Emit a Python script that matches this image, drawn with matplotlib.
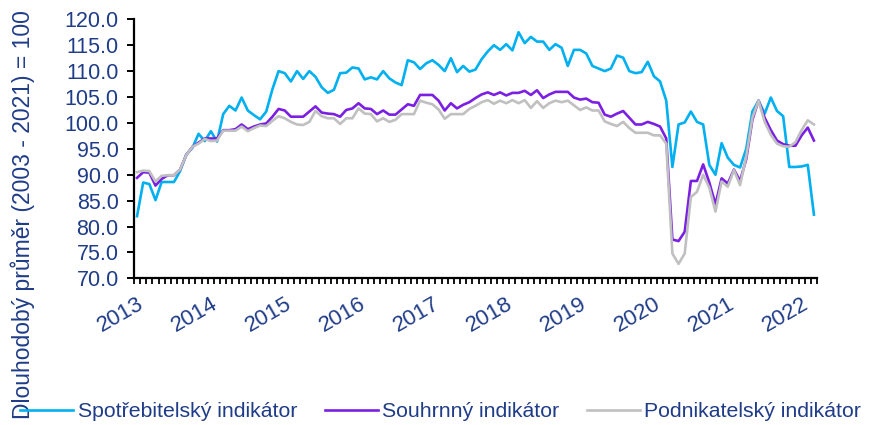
import matplotlib
matplotlib.use("Agg")
import matplotlib.pyplot as plt
import numpy as np

# monthly values, Jan 2013 .. Mar 2022
consumer = [
    82.0, 88.5, 88.2, 85.1, 88.6, 88.6, 88.6, 90.7, 93.9, 95.2, 97.9, 96.5,
    98.4, 96.4, 101.7, 103.3, 102.4, 104.9, 102.4, 101.5, 100.7, 102.2, 106.5, 110.0,
    109.6, 108.0, 110.0, 108.5, 110.0, 108.9, 106.9, 105.8, 106.4, 109.6, 109.7, 110.7,
    110.5, 108.4, 108.8, 108.4, 110.0, 108.6, 107.8, 107.3, 112.1, 111.7, 110.4, 111.5,
    112.1, 111.2, 110.0, 112.5, 109.8, 111.0, 109.9, 110.3, 112.3, 113.8, 115.0, 114.1,
    115.2, 114.0, 117.5, 115.4, 116.6, 115.7, 115.7, 114.1, 115.2, 114.5, 111.0, 114.1,
    114.1, 113.4, 111.0, 110.5, 110.0, 110.5, 113.0, 112.6, 110.0, 109.6, 109.8, 111.8,
    109.0, 108.0, 104.3, 91.5, 99.7, 100.1, 102.2, 100.2, 99.7, 91.9, 90.0, 96.1,
    93.3, 91.9, 91.4, 95.0, 102.2, 104.3, 101.8, 104.9, 102.3, 101.3, 91.5, 91.5,
    91.6, 91.9, 82.3,
]
composite = [
    89.4, 90.5, 90.4, 87.9, 89.2, 89.9, 89.9, 91.0, 93.8, 95.4, 96.2, 97.0,
    97.0, 97.0, 98.6, 98.6, 98.8, 99.7, 98.8, 99.3, 99.7, 99.9, 101.2, 102.7,
    102.4, 101.2, 101.2, 101.2, 102.2, 103.2, 102.0, 101.8, 101.7, 101.2, 102.5, 102.8,
    103.8, 102.8, 102.7, 101.7, 102.4, 101.6, 101.6, 102.6, 103.6, 103.3, 105.4, 105.4,
    105.4, 104.3, 102.4, 103.8, 102.8, 103.5, 104.0, 104.8, 105.5, 105.9, 105.4, 105.9,
    105.3, 105.8, 105.8, 106.2, 105.4, 106.3, 104.8, 105.5, 106.0, 106.0, 106.0, 104.9,
    104.5, 104.7, 104.0, 103.9, 101.6, 101.2, 101.8, 102.3, 101.0, 99.7, 99.7, 100.2,
    99.8, 99.3, 97.0, 77.5, 77.2, 79.0, 88.8, 88.8, 92.0, 88.5, 84.3, 89.3,
    88.3, 91.0, 88.8, 93.0, 100.6, 104.3, 101.0, 98.6, 96.6, 95.9, 95.6, 95.6,
    97.6, 99.1, 96.6,
]
business = [
    90.5, 90.8, 90.7, 88.7, 89.8, 89.9, 89.9, 91.0, 93.8, 95.4, 96.0, 96.9,
    96.5, 96.6, 98.5, 98.5, 98.5, 99.3, 98.4, 99.0, 99.5, 99.4, 100.4, 101.3,
    100.9, 100.2, 99.7, 99.6, 100.2, 102.3, 101.3, 100.9, 100.9, 99.8, 100.9, 100.9,
    102.8, 101.8, 101.7, 100.3, 100.9, 100.2, 100.6, 101.7, 101.7, 101.7, 104.3, 103.9,
    103.6, 102.6, 100.8, 101.7, 101.7, 101.7, 102.7, 103.3, 104.0, 104.4, 103.7, 104.3,
    103.8, 104.4, 103.8, 104.4, 102.9, 104.2, 102.9, 103.8, 104.3, 104.0, 104.3, 103.4,
    102.5, 103.0, 102.4, 102.4, 100.3, 99.8, 99.4, 100.2, 99.0, 98.1, 98.1, 98.1,
    97.6, 97.6, 96.0, 74.8, 72.8, 74.8, 85.7, 86.7, 90.0, 87.5, 82.9, 88.7,
    87.7, 90.9, 88.0, 93.5, 101.0, 104.3, 100.2, 97.7, 96.0, 95.5, 95.4, 96.3,
    98.6, 100.5, 99.7,
]
years = [str(y) for y in range(2013, 2023)]
series_names = ["Spotřebitelský indikátor", "Souhrnný indikátor", "Podnikatelský indikátor"]
colors = ["#00B0F0", "#7B1FE3", "#C0C0C0"]

NAVY = "#1F3C88"
plt.rcParams["font.family"] = ["Liberation Sans", "DejaVu Sans"]

fig = plt.figure(figsize=(8.71, 4.25), dpi=100)
ax = fig.add_axes([0.1538, 0.345, 0.7842, 0.6096])

x = np.arange(len(consumer))
for vals, name, col in zip([consumer, composite, business], series_names, colors):
    ax.plot(x, vals, color=col, lw=1.9, label=name)

ax.set_xlim(-0.5, len(consumer) - 0.5)
ax.set_ylim(70, 120)
ax.set_yticks(np.arange(70, 120.1, 5))
ax.set_yticklabels([f"{v:.1f}" for v in np.arange(70, 120.1, 5)])

ax.set_xticks(np.arange(0, len(consumer), 12))
ax.set_xticklabels(years, rotation=30, ha="right", va="top", rotation_mode="anchor")
ax.set_xticks(np.arange(-0.5, len(consumer), 1), minor=True)
ax.tick_params(axis="x", which="major", length=0, pad=11, labelsize=16, labelcolor=NAVY)
ax.tick_params(axis="x", which="minor", length=4, width=1.3, direction="out", color="black")
ax.tick_params(axis="y", length=5, width=1.4, direction="out", labelsize=15.5,
               labelcolor=NAVY, pad=6)

for s in ["top", "right"]:
    ax.spines[s].set_visible(False)
for s in ["left", "bottom"]:
    ax.spines[s].set_linewidth(1.6)
    ax.spines[s].set_color("black")

fig.text(0.026, 1 - 215 / 425, "Dlouhodobý průměr (2003 - 2021) = 100", rotation=90,
         va="center", ha="center", fontsize=16.5, color=NAVY)

fig.legend(loc="center", bbox_to_anchor=(0.506, 0.031), ncol=3, frameon=False,
           fontsize=15.3, labelcolor=NAVY, handlelength=2.5, handletextpad=0.2,
           columnspacing=1.3)

fig.savefig("out.png", dpi=100)
